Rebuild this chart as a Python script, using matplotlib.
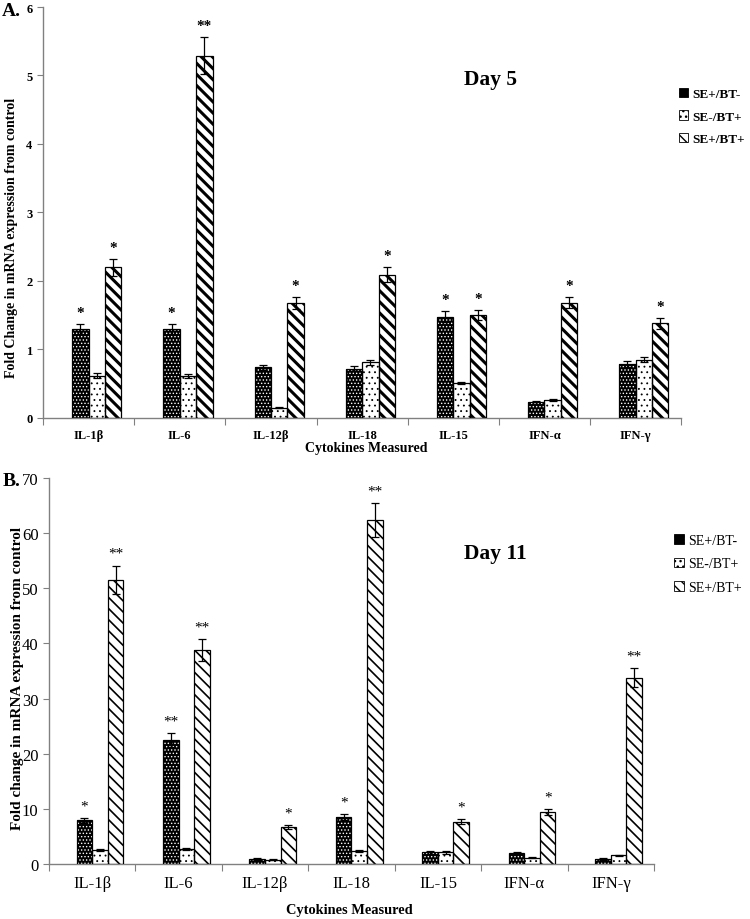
import matplotlib
matplotlib.use("Agg")
import matplotlib.pyplot as plt
import numpy as np
from matplotlib.patches import Patch

plt.rcParams['font.family'] = ['Liberation Serif', 'DejaVu Serif']

cytokines = ["IL-1β", "IL-6", "IL-12β", "IL-18", "IL-15", "IFN-α", "IFN-γ"]
groups = ["SE+/BT-", "SE-/BT+", "SE+/BT+"]

# Day 5 (panel A)
d5_se_bt_neg = [1.30, 1.30, 0.74, 0.72, 1.48, 0.24, 0.79]
d5_se_neg_bt = [0.62, 0.61, 0.15, 0.81, 0.51, 0.26, 0.85]
d5_se_bt_pos = [2.20, 5.29, 1.68, 2.09, 1.50, 1.68, 1.38]
d5_err_bt_neg = [0.07, 0.07, 0.04, 0.04, 0.08, 0.01, 0.04]
d5_err_neg_bt = [0.03, 0.03, 0.01, 0.04, 0.02, 0.01, 0.04]
d5_err_bt_pos = [0.12, 0.27, 0.09, 0.11, 0.07, 0.08, 0.08]
d5_sig_bt_neg = ["*", "*", "", "", "*", "", ""]
d5_sig_neg_bt = ["", "", "", "", "", "", ""]
d5_sig_bt_pos = ["*", "**", "*", "*", "*", "*", "*"]

# Day 11 (panel B)
d11_se_bt_neg = [7.9, 22.5, 0.9, 8.5, 2.1, 2.0, 0.9]
d11_se_neg_bt = [2.5, 2.7, 0.8, 2.4, 2.1, 1.1, 1.6]
d11_se_bt_pos = [51.5, 38.8, 6.7, 62.4, 7.7, 9.4, 33.8]
d11_err_bt_neg = [0.4, 1.2, 0.1, 0.5, 0.2, 0.2, 0.1]
d11_err_neg_bt = [0.2, 0.2, 0.1, 0.2, 0.2, 0.1, 0.1]
d11_err_bt_pos = [2.6, 2.0, 0.3, 3.1, 0.4, 0.5, 1.7]
d11_sig_bt_neg = ["*", "**", "", "*", "", "", ""]
d11_sig_neg_bt = ["", "", "", "", "", "", ""]
d11_sig_bt_pos = ["**", "**", "*", "**", "*", "*", "**"]


def draw_panel(ax, series, errs, sigs, ymax, ystep, bold, stripe_lw, star_off,
               tick_fs):
    x = np.arange(len(cytokines))
    w = 0.18
    shift = 0.09
    styles = [
        dict(face="black", hatch_col="white", hatch="....."),
        dict(face="white", hatch_col="black", hatch="..."),
        dict(face="white", hatch_col="black", hatch="\\\\\\"),
    ]
    weight = "bold" if bold else "normal"
    for k, (vals, err, sig, st) in enumerate(zip(series, errs, sigs, styles)):
        pos = x + shift + (k - 1) * w
        with plt.rc_context({"hatch.linewidth": stripe_lw if k == 2 else 0.6}):
            ax.bar(pos, vals, w, color=st["face"], edgecolor=st["hatch_col"],
                   hatch=st["hatch"], linewidth=0, zorder=2)
        ax.bar(pos, vals, w, fill=False, edgecolor="black", linewidth=0.9, zorder=3)
        ax.errorbar(pos, vals, yerr=err, fmt="none", ecolor="black",
                    elinewidth=0.9, capsize=3, capthick=0.9, zorder=4)
        for p, v, e, s in zip(pos, vals, err, sig):
            if s:
                ax.text(p, v + e + star_off, s, ha="center", va="center",
                        fontsize=11, fontweight=weight)

    ax.set_xlim(-0.5, len(cytokines) - 0.5)
    ax.set_ylim(0, ymax)
    ax.set_yticks(np.arange(0, ymax + ystep / 2, ystep))
    ax.set_xticks(np.arange(-0.5, len(cytokines)), [])
    ax.set_xticks(x, cytokines, minor=True)
    ax.tick_params(axis="x", which="major", length=5, color="#808080")
    ax.tick_params(axis="x", which="minor", length=0, pad=8, labelsize=tick_fs)
    ax.tick_params(axis="y", length=4, color="#808080", labelsize=tick_fs)
    for lbl in ax.get_xticklabels(minor=True) + ax.get_yticklabels():
        lbl.set_fontweight(weight)
    for s in ["top", "right"]:
        ax.spines[s].set_visible(False)
    for s in ["left", "bottom"]:
        ax.spines[s].set_color("#808080")
        ax.spines[s].set_linewidth(1.0)

    handles = []
    for k, st in enumerate(styles):
        handles.append(Patch(facecolor=st["face"], edgecolor="black",
                             hatch=st["hatch"], linewidth=0.6))
    return handles


fig = plt.figure(figsize=(7.5, 9.2), dpi=100)

ax1 = fig.add_axes([0.0573, 0.5446, 0.851, 0.4467])
h1 = draw_panel(ax1, [d5_se_bt_neg, d5_se_neg_bt, d5_se_bt_pos],
                [d5_err_bt_neg, d5_err_neg_bt, d5_err_bt_pos],
                [d5_sig_bt_neg, d5_sig_neg_bt, d5_sig_bt_pos],
                6, 1, True, 2.2, 0.17, 9)
ax1.set_ylabel("Fold Change in mRNA expression from control",
               fontsize=10, fontweight="bold")
ax1.yaxis.set_label_coords(-0.039, 0.44)
ax1.set_xlabel("Cytokines Measured", fontsize=10, fontweight="bold")
ax1.xaxis.set_label_coords(0.506, -0.056)
fig.text(490 / 750, 1 - 80 / 920, "Day 5", fontsize=15.5, fontweight="bold",
         ha="center", va="center")
fig.text(0.003, 1 - 12 / 920, "A.", fontsize=14, fontweight="bold",
         ha="left", va="center")
fig.legend(h1, groups, loc="upper left", bbox_to_anchor=(0.905, 0.903),
           frameon=False, prop=dict(size=9.5, weight="bold"),
           handlelength=0.7, handleheight=0.7, handletextpad=0.3,
           labelspacing=0.75, borderpad=0, borderaxespad=0)

ax2 = fig.add_axes([0.0653, 0.0598, 0.8067, 0.4196])
h2 = draw_panel(ax2, [d11_se_bt_neg, d11_se_neg_bt, d11_se_bt_pos],
                [d11_err_bt_neg, d11_err_neg_bt, d11_err_bt_pos],
                [d11_sig_bt_neg, d11_sig_neg_bt, d11_sig_bt_pos],
                70, 10, False, 1.2, 2.2, 12)
ax2.set_ylabel("Fold change in mRNA expression from control",
               fontsize=11, fontweight="bold")
ax2.yaxis.set_label_coords(-0.042, 0.484)
ax2.set_xlabel("Cytokines Measured", fontsize=10.4, fontweight="bold")
ax2.xaxis.set_label_coords(0.497, -0.102)
fig.text(495 / 750, 1 - 554 / 920, "Day 11", fontsize=15.5, fontweight="bold",
         ha="center", va="center")
fig.text(0.003, 1 - 481 / 920, "B.", fontsize=14, fontweight="bold",
         ha="left", va="center")
fig.legend(h2, groups, loc="upper left", bbox_to_anchor=(0.899, 0.4185),
           frameon=False, prop=dict(size=10),
           handlelength=0.7, handleheight=0.7, handletextpad=0.3,
           labelspacing=0.75, borderpad=0, borderaxespad=0)

fig.savefig("out.png", dpi=100)
